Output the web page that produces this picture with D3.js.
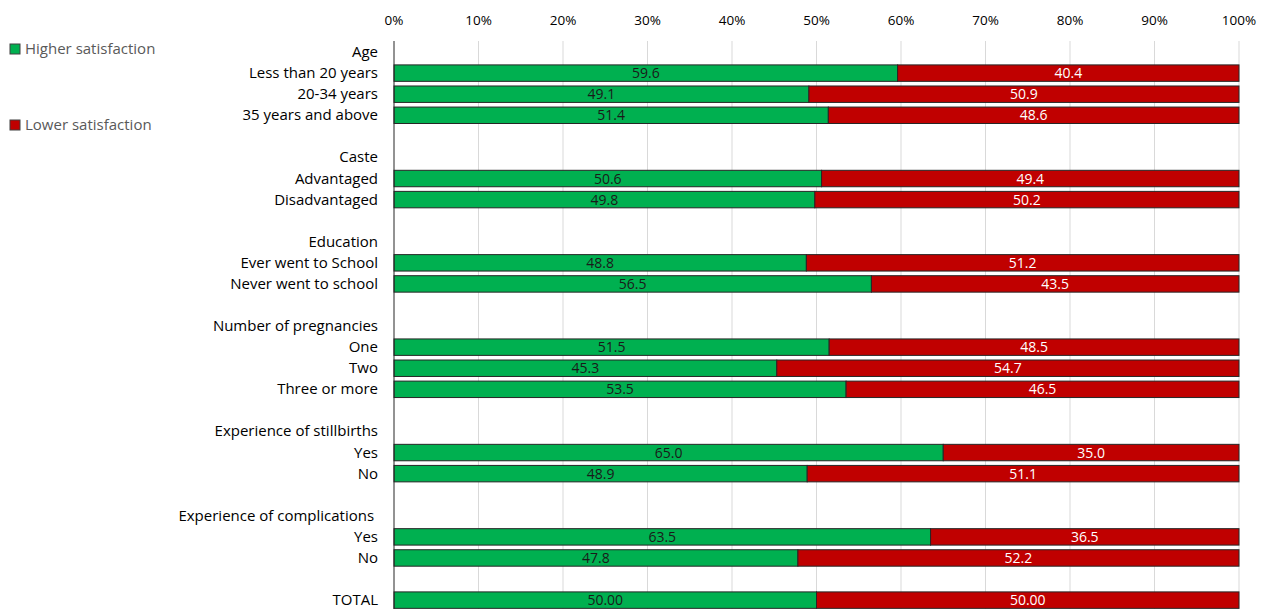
<!DOCTYPE html>
<html>
<head>
<meta charset="utf-8">
<script src="https://cdn.jsdelivr.net/npm/d3@7"></script>
<style>
  body { margin: 0; background: #fff; }
  svg text { font-family: "Open Sans", sans-serif; }
</style>
</head>
<body>
<svg id="chart" width="1266" height="609"></svg>
<script>
// rows: headers have null values, blank spacer rows have empty label
const rowLabels = [
    'Age', 'Less than 20 years', '20-34 years', '35 years and above', '',
    'Caste', 'Advantaged', 'Disadvantaged', '',
    'Education', 'Ever went to School', 'Never went to school', '',
    'Number of pregnancies', 'One', 'Two', 'Three or more', '',
    'Experience of stillbirths', 'Yes', 'No', '',
    'Experience of complications ', 'Yes', 'No', '',
    'TOTAL'
];
const higher = [
    null, 59.6, 49.1, 51.4, null,
    null, 50.6, 49.8, null,
    null, 48.8, 56.5, null,
    null, 51.5, 45.3, 53.5, null,
    null, 65.0, 48.9, null,
    null, 63.5, 47.8, null,
    50.00
];
const lower = [
    null, 40.4, 50.9, 48.6, null,
    null, 49.4, 50.2, null,
    null, 51.2, 43.5, null,
    null, 48.5, 54.7, 46.5, null,
    null, 35.0, 51.1, null,
    null, 36.5, 52.2, null,
    50.00
];
const seriesNames = ['Higher satisfaction', 'Lower satisfaction'];
const colors = ['#00B050', '#C00000'];
const xTicks = [0, 10, 20, 30, 40, 50, 60, 70, 80, 90, 100];

const svg = d3.select('#chart');
const margin = { top: 41, left: 394, right: 27 };
const width = +svg.attr('width');
const height = +svg.attr('height');

const x = d3.scaleLinear().domain([0, 100]).range([margin.left, width - margin.right]);
const y = d3.scaleBand()
    .domain(d3.range(rowLabels.length))
    .range([margin.top + 0.5, margin.top + 0.5 + 21.08 * rowLabels.length])
    .paddingInner(0.22)
    .paddingOuter(0.11);

// gridlines
svg.append('g')
    .selectAll('line')
    .data(xTicks.slice(1))
    .join('line')
    .attr('x1', d => x(d)).attr('x2', d => x(d))
    .attr('y1', margin.top).attr('y2', height)
    .attr('stroke', '#d9d9d9')
    .attr('stroke-width', 1);

// top tick labels
svg.append('g')
    .selectAll('text')
    .data(xTicks)
    .join('text')
    .attr('x', d => x(d))
    .attr('y', 25)
    .attr('text-anchor', 'middle')
    .attr('font-size', 13.5)
    .attr('fill', '#000')
    .text(d => d + '%');

// bars
const rows = rowLabels.map((label, i) => ({ i, label, h: higher[i], l: lower[i] }));
const barRows = rows.filter(r => r.h !== null);

const gBars = svg.append('g');
barRows.forEach(r => {
    const segs = [
        { x0: 0, x1: r.h, v: r.h, c: colors[0], tc: '#1a1a1a' },
        { x0: r.h, x1: r.h + r.l, v: r.l, c: colors[1], tc: '#fff' }
    ];
    const fmt = r.i === rowLabels.length - 1 ? d3.format('.2f') : d3.format('.1f');
    segs.forEach(s => {
        gBars.append('rect')
            .attr('x', x(s.x0))
            .attr('y', y(r.i))
            .attr('width', x(s.x1) - x(s.x0))
            .attr('height', y.bandwidth())
            .attr('fill', s.c)
            .attr('stroke', '#262626')
            .attr('stroke-width', 1);
        gBars.append('text')
            .attr('x', (x(s.x0) + x(s.x1)) / 2)
            .attr('y', y(r.i) + y.bandwidth() / 2 + 5)
            .attr('text-anchor', 'middle')
            .attr('font-size', 14)
            .attr('fill', s.tc)
            .text(fmt(s.v));
    });
});

// category axis line
svg.append('line')
    .attr('x1', margin.left).attr('x2', margin.left)
    .attr('y1', margin.top).attr('y2', height)
    .attr('stroke', '#262626')
    .attr('stroke-width', 1);

// row labels
svg.append('g')
    .selectAll('text')
    .data(rows.filter(r => r.label !== ''))
    .join('text')
    .attr('x', margin.left - 16)
    .attr('y', d => y(d.i) + y.bandwidth() / 2 + 5)
    .attr('text-anchor', 'end')
    .attr('font-size', 15)
    .attr('fill', '#000')
    .style('white-space', 'pre')
    .text(d => d.label);

// legend
const legend = svg.append('g');
[49, 125].forEach((ly, k) => {
    legend.append('rect')
        .attr('x', 10).attr('y', ly - 5)
        .attr('width', 10).attr('height', 10)
        .attr('fill', colors[k])
        .attr('stroke', '#404040');
    legend.append('text')
        .attr('x', 25).attr('y', ly + 5)
        .attr('font-size', 15)
        .attr('fill', '#595959')
        .text(seriesNames[k]);
});
</script>
</body>
</html>
